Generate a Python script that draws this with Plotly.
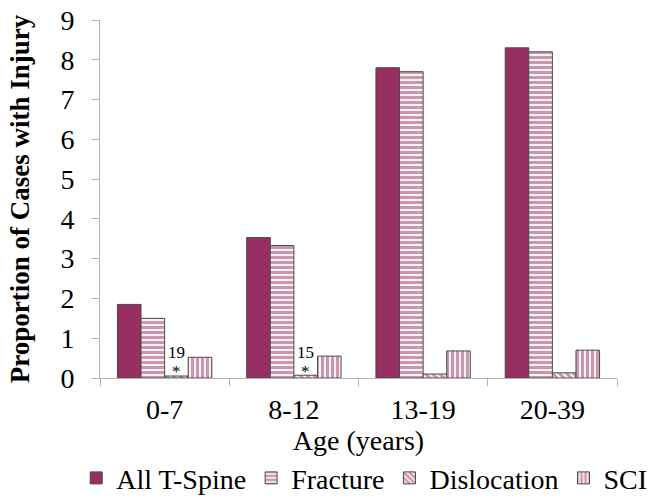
import plotly.graph_objects as go

# Age groups and per-injury proportions
ages = ["0-7", "8-12", "13-19", "20-39"]
all_tspine = [1.85, 3.53, 7.80, 8.30]
fracture = [1.50, 3.33, 7.70, 8.20]
dislocation = [0.05, 0.07, 0.10, 0.13]
sci = [0.52, 0.55, 0.68, 0.70]

# Case counts noted above the small dislocation bars
note_groups = ["0-7", "8-12"]
note_counts = ["19", "15"]

series = [
    ("All T-Spine", all_tspine, ""),
    ("Fracture", fracture, "-"),
    ("Dislocation", dislocation, "\\"),
    ("SCI", sci, "|"),
]

COLOR = "#982f62"
FONT = "Liberation Serif, Times New Roman, serif"
BARGAP = 0.27

fig = go.Figure()
for name, vals, shape in series:
    fig.add_trace(go.Bar(
        name=name,
        x=ages,
        y=vals,
        marker=dict(
            color=COLOR if shape == "" else "white",
            line=dict(color="#4a4a4a", width=1),
            pattern=dict(shape=shape, fgcolor=COLOR, bgcolor="white",
                         size=5, solidity=0.65) if shape else None,
        ),
    ))

# Position the notes over the dislocation bar (third of four in each group)
bar_w = (1 - BARGAP) / 4
disl_offset = -(1 - BARGAP) / 2 + 2.5 * bar_w
for grp, cnt in zip(note_groups, note_counts):
    xi = ages.index(grp) + disl_offset
    fig.add_annotation(x=xi, y=0.64, text=cnt, showarrow=False,
                       font=dict(family=FONT, size=17, color="black"),
                       xref="x", yref="y")
    fig.add_annotation(x=xi, y=0.16, text="*", showarrow=False,
                       font=dict(family=FONT, size=17, color="black"),
                       xref="x", yref="y")

fig.update_layout(
    width=665, height=501,
    margin=dict(l=100, r=48, t=20, b=123, autoexpand=False),
    paper_bgcolor="white",
    plot_bgcolor="white",
    barmode="group",
    bargap=BARGAP,
    bargroupgap=0,
    font=dict(family=FONT, size=28, color="black"),
    showlegend=True,
    legend=dict(orientation="h", x=-0.046, xanchor="left",
                y=-0.21, yanchor="top",
                font=dict(family=FONT, size=28), itemwidth=30,
                tracegroupgap=0, traceorder="normal"),
    xaxis=dict(
        title=dict(text="Age (years)", font=dict(family=FONT, size=28), standoff=0),
        showline=True, linecolor="#b3b3b3", linewidth=1,
        ticks="outside", tickcolor="#b3b3b3", ticklen=7,
        tickson="boundaries",
        tickfont=dict(family=FONT, size=28),
        ticklabelstandoff=6,
        showgrid=False,
    ),
    yaxis=dict(
        title=dict(text="<b>Proportion of Cases with Injury</b>",
                   font=dict(family=FONT, size=27), standoff=22),
        range=[0, 9], dtick=1,
        showline=True, linecolor="#b3b3b3", linewidth=1,
        ticks="outside", tickcolor="#b3b3b3", ticklen=7,
        tickfont=dict(family=FONT, size=28),
        ticklabelstandoff=12,
        showgrid=False, zeroline=False,
    ),
)

fig.write_html("out.html")
